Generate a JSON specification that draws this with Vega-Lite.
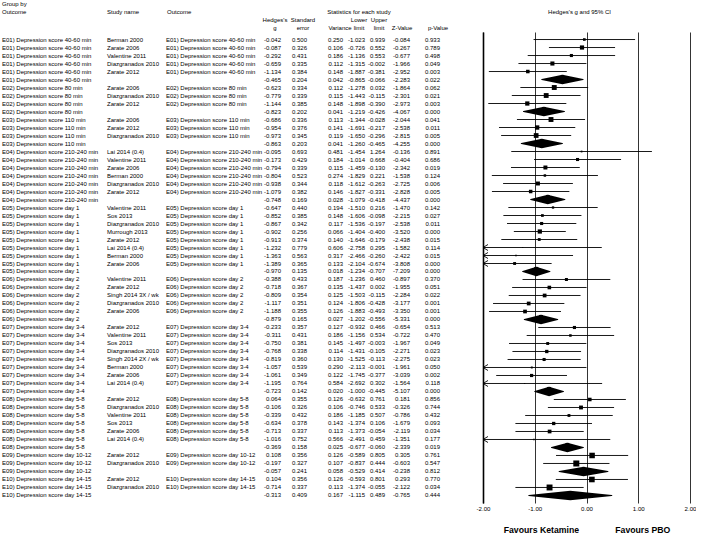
{
"$schema": "https://vega.github.io/schema/vega-lite/v6.json",
"padding": 0,
"spacing": 0,
"bounds": "full",
"datasets": {
"heads": [
{"col":"group","line":1,"text":"Group by"},{"col":"group","line":2,"text":"Outcome"},
{"col":"study","line":2,"text":"Study name"},
{"col":"outcome","line":2,"text":"Outcome"},
{"col":"g","line":3,"text":"Hedges's"},{"col":"g","line":4,"text":"g"},
{"col":"se","line":3,"text":"Standard"},{"col":"se","line":4,"text":"error"},
{"col":"var","line":4,"text":"Variance"},
{"col":"lo","line":2,"text":"Statistics for each study"},{"col":"lo","line":3,"text":"Lower"},{"col":"lo","line":4,"text":"limit"},
{"col":"hi","line":3,"text":"Upper"},{"col":"hi","line":4,"text":"limit"},
{"col":"z","line":4,"text":"Z-Value"},
{"col":"p","line":4,"text":"p-Value"},
{"col":"ci","line":2,"text":"Hedges's g and 95% CI"}
],
"rows": [
{"row":1,"group":"E01) Depression score 40-60 min","study":"Berman 2000","kind":"study","g":-0.042,"se":0.500,"var":0.250,"lo":-1.023,"hi":0.939,"z":-0.084,"p":0.933,"rw":11.6},
{"row":2,"group":"E01) Depression score 40-60 min","study":"Zarate 2006","kind":"study","g":-0.087,"se":0.326,"var":0.106,"lo":-0.726,"hi":0.552,"z":-0.267,"p":0.789,"rw":27.3},
{"row":3,"group":"E01) Depression score 40-60 min","study":"Valentine 2011","kind":"study","g":-0.292,"se":0.431,"var":0.186,"lo":-1.136,"hi":0.553,"z":-0.677,"p":0.498,"rw":15.6},
{"row":4,"group":"E01) Depression score 40-60 min","study":"Diazgranados 2010","kind":"study","g":-0.659,"se":0.335,"var":0.112,"lo":-1.315,"hi":-0.002,"z":-1.966,"p":0.049,"rw":25.9},
{"row":5,"group":"E01) Depression score 40-60 min","study":"Zarate 2012","kind":"study","g":-1.134,"se":0.384,"var":0.148,"lo":-1.887,"hi":-0.381,"z":-2.952,"p":0.003,"rw":19.6},
{"row":6,"group":"E01) Depression score 40-60 min","study":"","kind":"summary","g":-0.465,"se":0.204,"var":0.042,"lo":-0.865,"hi":-0.066,"z":-2.283,"p":0.022},
{"row":7,"group":"E02) Depression score 80 min","study":"Zarate 2006","kind":"study","g":-0.623,"se":0.334,"var":0.112,"lo":-1.278,"hi":0.032,"z":-1.864,"p":0.062,"rw":36.6},
{"row":8,"group":"E02) Depression score 80 min","study":"Diazgranados 2010","kind":"study","g":-0.779,"se":0.339,"var":0.115,"lo":-1.443,"hi":-0.115,"z":-2.301,"p":0.021,"rw":35.7},
{"row":9,"group":"E02) Depression score 80 min","study":"Zarate 2012","kind":"study","g":-1.144,"se":0.385,"var":0.148,"lo":-1.898,"hi":-0.390,"z":-2.973,"p":0.003,"rw":27.7},
{"row":10,"group":"E02) Depression score 80 min","study":"","kind":"summary","g":-0.823,"se":0.202,"var":0.041,"lo":-1.219,"hi":-0.426,"z":-4.067,"p":0.000},
{"row":11,"group":"E03) Depression score 110 min","study":"Zarate 2006","kind":"study","g":-0.686,"se":0.336,"var":0.113,"lo":-1.344,"hi":-0.028,"z":-2.044,"p":0.041,"rw":36.4},
{"row":12,"group":"E03) Depression score 110 min","study":"Zarate 2012","kind":"study","g":-0.954,"se":0.376,"var":0.141,"lo":-1.691,"hi":-0.217,"z":-2.538,"p":0.011,"rw":29.1},
{"row":13,"group":"E03) Depression score 110 min","study":"Diazgranados 2010","kind":"study","g":-0.973,"se":0.345,"var":0.119,"lo":-1.650,"hi":-0.296,"z":-2.815,"p":0.005,"rw":34.5},
{"row":14,"group":"E03) Depression score 110 min","study":"","kind":"summary","g":-0.863,"se":0.203,"var":0.041,"lo":-1.260,"hi":-0.465,"z":-4.255,"p":0.000},
{"row":15,"group":"E04) Depression score 210-240 min","study":"Lai 2014 (0.4)","kind":"study","g":-0.095,"se":0.693,"var":0.481,"lo":-1.454,"hi":1.264,"z":-0.136,"p":0.891,"rw":5.9},
{"row":16,"group":"E04) Depression score 210-240 min","study":"Valentine 2011","kind":"study","g":-0.173,"se":0.429,"var":0.184,"lo":-1.014,"hi":0.668,"z":-0.404,"p":0.686,"rw":15.4},
{"row":17,"group":"E04) Depression score 210-240 min","study":"Zarate 2006","kind":"study","g":-0.794,"se":0.339,"var":0.115,"lo":-1.459,"hi":-0.130,"z":-2.342,"p":0.019,"rw":24.7},
{"row":18,"group":"E04) Depression score 210-240 min","study":"Berman 2000","kind":"study","g":-0.804,"se":0.523,"var":0.274,"lo":-1.829,"hi":0.221,"z":-1.538,"p":0.124,"rw":10.4},
{"row":19,"group":"E04) Depression score 210-240 min","study":"Diazgranados 2010","kind":"study","g":-0.938,"se":0.344,"var":0.118,"lo":-1.612,"hi":-0.263,"z":-2.725,"p":0.006,"rw":24.1},
{"row":20,"group":"E04) Depression score 210-240 min","study":"Zarate 2012","kind":"study","g":-1.079,"se":0.382,"var":0.146,"lo":-1.827,"hi":-0.331,"z":-2.828,"p":0.005,"rw":19.5},
{"row":21,"group":"E04) Depression score 210-240 min","study":"","kind":"summary","g":-0.748,"se":0.169,"var":0.028,"lo":-1.079,"hi":-0.418,"z":-4.437,"p":0.000},
{"row":22,"group":"E05) Depression score day 1","study":"Valentine 2011","kind":"study","g":-0.647,"se":0.440,"var":0.194,"lo":-1.510,"hi":0.216,"z":-1.470,"p":0.142,"rw":9.4},
{"row":23,"group":"E05) Depression score day 1","study":"Sos 2013","kind":"study","g":-0.852,"se":0.385,"var":0.148,"lo":-1.606,"hi":-0.098,"z":-2.215,"p":0.027,"rw":12.3},
{"row":24,"group":"E05) Depression score day 1","study":"Diazgranados 2010","kind":"study","g":-0.867,"se":0.342,"var":0.117,"lo":-1.536,"hi":-0.197,"z":-2.538,"p":0.011,"rw":15.5},
{"row":25,"group":"E05) Depression score day 1","study":"Murrough 2013","kind":"study","g":-0.902,"se":0.256,"var":0.066,"lo":-1.404,"hi":-0.400,"z":-3.520,"p":0.000,"rw":27.5},
{"row":26,"group":"E05) Depression score day 1","study":"Zarate 2012","kind":"study","g":-0.913,"se":0.374,"var":0.140,"lo":-1.646,"hi":-0.179,"z":-2.438,"p":0.015,"rw":13.0},
{"row":27,"group":"E05) Depression score day 1","study":"Lai 2014 (0.4)","kind":"study","g":-1.232,"se":0.779,"var":0.606,"lo":-2.758,"hi":0.295,"z":-1.582,"p":0.114,"rw":3.0},
{"row":28,"group":"E05) Depression score day 1","study":"Berman 2000","kind":"study","g":-1.363,"se":0.563,"var":0.317,"lo":-2.466,"hi":-0.260,"z":-2.422,"p":0.015,"rw":5.7},
{"row":29,"group":"E05) Depression score day 1","study":"Zarate 2006","kind":"study","g":-1.389,"se":0.365,"var":0.133,"lo":-2.104,"hi":-0.674,"z":-3.808,"p":0.000,"rw":13.7},
{"row":30,"group":"E05) Depression score day 1","study":"","kind":"summary","g":-0.970,"se":0.135,"var":0.018,"lo":-1.234,"hi":-0.707,"z":-7.209,"p":0.000},
{"row":31,"group":"E06) Depression score day 2","study":"Valentine 2011","kind":"study","g":-0.388,"se":0.433,"var":0.187,"lo":-1.236,"hi":0.460,"z":-0.897,"p":0.370,"rw":14.6},
{"row":32,"group":"E06) Depression score day 2","study":"Zarate 2012","kind":"study","g":-0.718,"se":0.367,"var":0.135,"lo":-1.437,"hi":0.002,"z":-1.955,"p":0.051,"rw":20.2},
{"row":33,"group":"E06) Depression score day 2","study":"Singh 2014 3X / wk","kind":"study","g":-0.809,"se":0.354,"var":0.125,"lo":-1.503,"hi":-0.115,"z":-2.284,"p":0.022,"rw":21.8},
{"row":34,"group":"E06) Depression score day 2","study":"Diazgranados 2010","kind":"study","g":-1.117,"se":0.351,"var":0.124,"lo":-1.806,"hi":-0.428,"z":-3.177,"p":0.001,"rw":21.9},
{"row":35,"group":"E06) Depression score day 2","study":"Zarate 2006","kind":"study","g":-1.188,"se":0.355,"var":0.126,"lo":-1.883,"hi":-0.493,"z":-3.350,"p":0.001,"rw":21.6},
{"row":36,"group":"E06) Depression score day 2","study":"","kind":"summary","g":-0.879,"se":0.165,"var":0.027,"lo":-1.202,"hi":-0.556,"z":-5.331,"p":0.000},
{"row":37,"group":"E07) Depression score day 3-4","study":"Zarate 2012","kind":"study","g":-0.233,"se":0.357,"var":0.127,"lo":-0.932,"hi":0.466,"z":-0.654,"p":0.513,"rw":15.8},
{"row":38,"group":"E07) Depression score day 3-4","study":"Valentine 2011","kind":"study","g":-0.311,"se":0.431,"var":0.186,"lo":-1.156,"hi":0.534,"z":-0.722,"p":0.470,"rw":10.8},
{"row":39,"group":"E07) Depression score day 3-4","study":"Sos 2013","kind":"study","g":-0.750,"se":0.381,"var":0.145,"lo":-1.497,"hi":-0.003,"z":-1.967,"p":0.049,"rw":13.8},
{"row":40,"group":"E07) Depression score day 3-4","study":"Diazgranados 2010","kind":"study","g":-0.768,"se":0.338,"var":0.114,"lo":-1.431,"hi":-0.105,"z":-2.271,"p":0.023,"rw":17.6},
{"row":41,"group":"E07) Depression score day 3-4","study":"Singh 2014 2X / wk","kind":"study","g":-0.819,"se":0.360,"var":0.130,"lo":-1.525,"hi":-0.113,"z":-2.275,"p":0.023,"rw":15.4},
{"row":42,"group":"E07) Depression score day 3-4","study":"Berman 2000","kind":"study","g":-1.057,"se":0.539,"var":0.290,"lo":-2.113,"hi":-0.001,"z":-1.961,"p":0.050,"rw":6.9},
{"row":43,"group":"E07) Depression score day 3-4","study":"Zarate 2006","kind":"study","g":-1.061,"se":0.349,"var":0.122,"lo":-1.745,"hi":-0.377,"z":-3.039,"p":0.002,"rw":16.4},
{"row":44,"group":"E07) Depression score day 3-4","study":"Lai 2014 (0.4)","kind":"study","g":-1.195,"se":0.764,"var":0.584,"lo":-2.692,"hi":0.302,"z":-1.564,"p":0.118,"rw":3.4},
{"row":45,"group":"E07) Depression score day 3-4","study":"","kind":"summary","g":-0.723,"se":0.142,"var":0.020,"lo":-1.000,"hi":-0.445,"z":-5.107,"p":0.000},
{"row":46,"group":"E08) Depression score day 5-8","study":"Zarate 2012","kind":"study","g":0.064,"se":0.355,"var":0.126,"lo":-0.632,"hi":0.761,"z":0.181,"p":0.856,"rw":19.7},
{"row":47,"group":"E08) Depression score day 5-8","study":"Diazgranados 2010","kind":"study","g":-0.106,"se":0.326,"var":0.106,"lo":-0.746,"hi":0.533,"z":-0.326,"p":0.744,"rw":23.4},
{"row":48,"group":"E08) Depression score day 5-8","study":"Valentine 2011","kind":"study","g":-0.339,"se":0.432,"var":0.186,"lo":-1.185,"hi":0.507,"z":-0.786,"p":0.432,"rw":13.3},
{"row":49,"group":"E08) Depression score day 5-8","study":"Sos 2013","kind":"study","g":-0.634,"se":0.378,"var":0.143,"lo":-1.374,"hi":0.106,"z":-1.679,"p":0.093,"rw":17.3},
{"row":50,"group":"E08) Depression score day 5-8","study":"Zarate 2006","kind":"study","g":-0.713,"se":0.337,"var":0.113,"lo":-1.373,"hi":-0.054,"z":-2.119,"p":0.034,"rw":21.9},
{"row":51,"group":"E08) Depression score day 5-8","study":"Lai 2014 (0.4)","kind":"study","g":-1.016,"se":0.752,"var":0.566,"lo":-2.491,"hi":0.459,"z":-1.351,"p":0.177,"rw":4.4},
{"row":52,"group":"E08) Depression score day 5-8","study":"","kind":"summary","g":-0.369,"se":0.158,"var":0.025,"lo":-0.677,"hi":-0.060,"z":-2.339,"p":0.019},
{"row":53,"group":"E09) Depression score day 10-12","study":"Zarate 2012","kind":"study","g":0.108,"se":0.356,"var":0.126,"lo":-0.589,"hi":0.805,"z":0.305,"p":0.761,"rw":45.9},
{"row":54,"group":"E09) Depression score day 10-12","study":"Diazgranados 2010","kind":"study","g":-0.197,"se":0.327,"var":0.107,"lo":-0.837,"hi":0.444,"z":-0.603,"p":0.547,"rw":54.1},
{"row":55,"group":"E09) Depression score day 10-12","study":"","kind":"summary","g":-0.057,"se":0.241,"var":0.058,"lo":-0.529,"hi":0.414,"z":-0.238,"p":0.812},
{"row":56,"group":"E10) Depression score day 14-15","study":"Zarate 2012","kind":"study","g":0.104,"se":0.356,"var":0.126,"lo":-0.593,"hi":0.801,"z":0.293,"p":0.770,"rw":47.3},
{"row":57,"group":"E10) Depression score day 14-15","study":"Diazgranados 2010","kind":"study","g":-0.714,"se":0.337,"var":0.113,"lo":-1.374,"hi":-0.055,"z":-2.122,"p":0.034,"rw":52.7},
{"row":58,"group":"E10) Depression score day 14-15","study":"","kind":"summary","g":-0.313,"se":0.409,"var":0.167,"lo":-1.115,"hi":0.489,"z":-0.765,"p":0.444}
]},
"vconcat": [
{"data":{"name":"heads"},"spacing":0,"bounds":"flush",
 "hconcat":[
 {"width":106,"height":32,"transform":[{"filter":"datum.col === 'group'"}],
  "mark":{"type":"text","align":"left","baseline":"middle","dx":2},
  "encoding":{"y":{"field":"line","type":"ordinal","scale":{"type":"point","domain":[1,2,3,4],"padding":0.55},"axis":null},
   "x":{"datum":"c","type":"nominal","scale":{"type":"point","align":0},"axis":null},"text":{"field":"text"}}},
 {"width":60,"height":32,"transform":[{"filter":"datum.col === 'study'"}],
  "mark":{"type":"text","align":"left","baseline":"middle","dx":1},
  "encoding":{"y":{"field":"line","type":"ordinal","scale":{"type":"point","domain":[1,2,3,4],"padding":0.55},"axis":null},
   "x":{"datum":"c","type":"nominal","scale":{"type":"point","align":0},"axis":null},"text":{"field":"text"}}},
 {"width":84,"height":32,"transform":[{"filter":"datum.col === 'outcome'"}],
  "mark":{"type":"text","align":"left","baseline":"middle","dx":1},
  "encoding":{"y":{"field":"line","type":"ordinal","scale":{"type":"point","domain":[1,2,3,4],"padding":0.55},"axis":null},
   "x":{"datum":"c","type":"nominal","scale":{"type":"point","align":0},"axis":null},"text":{"field":"text"}}},
 {"width":31,"height":32,"transform":[{"filter":"datum.col === 'g'"}],
  "mark":{"type":"text","align":"center","baseline":"middle","dx":-6},
  "encoding":{"y":{"field":"line","type":"ordinal","scale":{"type":"point","domain":[1,2,3,4],"padding":0.55},"axis":null},
   "x":{"datum":"c","type":"nominal","scale":{"type":"point","align":1},"axis":null},"text":{"field":"text"}}},
 {"width":26,"height":32,"transform":[{"filter":"datum.col === 'se'"}],
  "mark":{"type":"text","align":"center","baseline":"middle","dx":-4},
  "encoding":{"y":{"field":"line","type":"ordinal","scale":{"type":"point","domain":[1,2,3,4],"padding":0.55},"axis":null},
   "x":{"datum":"c","type":"nominal","scale":{"type":"point","align":1},"axis":null},"text":{"field":"text"}}},
 {"width":36,"height":32,"transform":[{"filter":"datum.col === 'var'"}],
  "mark":{"type":"text","align":"center","baseline":"middle","dx":-3},
  "encoding":{"y":{"field":"line","type":"ordinal","scale":{"type":"point","domain":[1,2,3,4],"padding":0.55},"axis":null},
   "x":{"datum":"c","type":"nominal","scale":{"type":"point","align":1},"axis":null},"text":{"field":"text"}}},
 {"width":22,"height":32,"transform":[{"filter":"datum.col === 'lo'"}],
  "mark":{"type":"text","align":"center","baseline":"middle","dx":-6},
  "encoding":{"y":{"field":"line","type":"ordinal","scale":{"type":"point","domain":[1,2,3,4],"padding":0.55},"axis":null},
   "x":{"datum":"c","type":"nominal","scale":{"type":"point","align":1},"axis":null},"text":{"field":"text"}}},
 {"width":20,"height":32,"transform":[{"filter":"datum.col === 'hi'"}],
  "mark":{"type":"text","align":"center","baseline":"middle","dx":-6},
  "encoding":{"y":{"field":"line","type":"ordinal","scale":{"type":"point","domain":[1,2,3,4],"padding":0.55},"axis":null},
   "x":{"datum":"c","type":"nominal","scale":{"type":"point","align":1},"axis":null},"text":{"field":"text"}}},
 {"width":25,"height":32,"transform":[{"filter":"datum.col === 'z'"}],
  "mark":{"type":"text","align":"center","baseline":"middle","dx":-8},
  "encoding":{"y":{"field":"line","type":"ordinal","scale":{"type":"point","domain":[1,2,3,4],"padding":0.55},"axis":null},
   "x":{"datum":"c","type":"nominal","scale":{"type":"point","align":1},"axis":null},"text":{"field":"text"}}},
 {"width":30,"height":32,"transform":[{"filter":"datum.col === 'p'"}],
  "mark":{"type":"text","align":"center","baseline":"middle","dx":-2},
  "encoding":{"y":{"field":"line","type":"ordinal","scale":{"type":"point","domain":[1,2,3,4],"padding":0.55},"axis":null},
   "x":{"datum":"c","type":"nominal","scale":{"type":"point","align":1},"axis":null},"text":{"field":"text"}}},
 {"width":43,"height":32,"data":{"values":[]},"mark":{"type":"point","opacity":0}},
 {"width":207,"height":32,"transform":[{"filter":"datum.col === 'ci'"}],
  "mark":{"type":"text","align":"center","baseline":"middle","dx":-7},
  "encoding":{"y":{"field":"line","type":"ordinal","scale":{"type":"point","domain":[1,2,3,4],"padding":0.55},"axis":null},
   "x":{"datum":"c","type":"nominal","scale":{"type":"point","align":0.5},"axis":null},"text":{"field":"text"}}}
 ]},
{"data":{"name":"rows"},"spacing":0,"bounds":"flush",
 "hconcat":[
 {"width":106,"height":471,
  "mark":{"type":"text","align":"left","baseline":"middle","dx":2},
  "encoding":{"y":{"field":"row","type":"ordinal","scale":{"type":"point","padding":0.94},"axis":null},
   "x":{"datum":"c","type":"nominal","scale":{"type":"point","align":0},"axis":null},
   "text":{"field":"group"}}},
 {"width":60,"height":471,
  "mark":{"type":"text","align":"left","baseline":"middle","dx":1},
  "encoding":{"y":{"field":"row","type":"ordinal","scale":{"type":"point","padding":0.94},"axis":null},
   "x":{"datum":"c","type":"nominal","scale":{"type":"point","align":0},"axis":null},
   "text":{"field":"study"}}},
 {"width":84,"height":471,
  "mark":{"type":"text","align":"left","baseline":"middle"},
  "encoding":{"y":{"field":"row","type":"ordinal","scale":{"type":"point","padding":0.94},"axis":null},
   "x":{"datum":"c","type":"nominal","scale":{"type":"point","align":0},"axis":null},
   "text":{"condition":{"test":"datum.kind === 'study'","field":"group"},"value":""}}},
 {"width":31,"height":471,
  "mark":{"type":"text","align":"right","baseline":"middle"},
  "encoding":{"y":{"field":"row","type":"ordinal","scale":{"type":"point","padding":0.94},"axis":null},
   "x":{"datum":"c","type":"nominal","scale":{"type":"point","align":1},"axis":null},
   "text":{"field":"g","type":"quantitative","format":".3f"}}},
 {"width":26,"height":471,
  "mark":{"type":"text","align":"right","baseline":"middle"},
  "encoding":{"y":{"field":"row","type":"ordinal","scale":{"type":"point","padding":0.94},"axis":null},
   "x":{"datum":"c","type":"nominal","scale":{"type":"point","align":1},"axis":null},
   "text":{"field":"se","type":"quantitative","format":".3f"}}},
 {"width":36,"height":471,
  "mark":{"type":"text","align":"right","baseline":"middle"},
  "encoding":{"y":{"field":"row","type":"ordinal","scale":{"type":"point","padding":0.94},"axis":null},
   "x":{"datum":"c","type":"nominal","scale":{"type":"point","align":1},"axis":null},
   "text":{"field":"var","type":"quantitative","format":".3f"}}},
 {"width":22,"height":471,
  "mark":{"type":"text","align":"right","baseline":"middle"},
  "encoding":{"y":{"field":"row","type":"ordinal","scale":{"type":"point","padding":0.94},"axis":null},
   "x":{"datum":"c","type":"nominal","scale":{"type":"point","align":1},"axis":null},
   "text":{"field":"lo","type":"quantitative","format":".3f"}}},
 {"width":20,"height":471,
  "mark":{"type":"text","align":"right","baseline":"middle"},
  "encoding":{"y":{"field":"row","type":"ordinal","scale":{"type":"point","padding":0.94},"axis":null},
   "x":{"datum":"c","type":"nominal","scale":{"type":"point","align":1},"axis":null},
   "text":{"field":"hi","type":"quantitative","format":".3f"}}},
 {"width":25,"height":471,
  "mark":{"type":"text","align":"right","baseline":"middle"},
  "encoding":{"y":{"field":"row","type":"ordinal","scale":{"type":"point","padding":0.94},"axis":null},
   "x":{"datum":"c","type":"nominal","scale":{"type":"point","align":1},"axis":null},
   "text":{"field":"z","type":"quantitative","format":".3f"}}},
 {"width":30,"height":471,
  "mark":{"type":"text","align":"right","baseline":"middle"},
  "encoding":{"y":{"field":"row","type":"ordinal","scale":{"type":"point","padding":0.94},"axis":null},
   "x":{"datum":"c","type":"nominal","scale":{"type":"point","align":1},"axis":null},
   "text":{"field":"p","type":"quantitative","format":".3f"}}},
 {"width":43,"height":471,"data":{"values":[]},"mark":{"type":"point","opacity":0}},
 {"width":207,"height":471,
  "encoding":{"y":{"field":"row","type":"ordinal","scale":{"type":"point","padding":0.94},
    "axis":{"orient":"left","domain":true,"domainColor":"black","domainWidth":1.6,"labels":false,"ticks":false,"grid":false,"title":null}}},
  "layer":[
   {"transform":[{"filter":"datum.kind === 'study'"}],
    "mark":{"type":"rule","clip":true,"color":"black","strokeWidth":0.9},
    "encoding":{"x":{"field":"lo","type":"quantitative","scale":{"domain":[-2,2],"nice":false,"zero":false},
      "axis":{"values":[-2,-1,0,1,2],"format":".2f","grid":true,"gridColor":"black","gridOpacity":1,"gridWidth":0.8,"domain":false,"ticks":false,"labelFlush":false,"labelFontSize":6.1,"labelFont":"Liberation Sans","labelColor":"black","labelPadding":2,
       "title":"Favours Ketamine\u00a0\u00a0\u00a0\u00a0\u00a0\u00a0\u00a0\u00a0\u00a0\u00a0\u00a0\u00a0\u00a0\u00a0\u00a0Favours PBO","titleFont":"Liberation Sans","titleFontSize":8.7,"titleFontWeight":"bold","titleColor":"black","titlePadding":14}},
     "x2":{"field":"hi"}}},
   {"transform":[{"filter":"datum.kind === 'study'"}],
    "mark":{"type":"point","shape":"square","filled":true,"color":"black","opacity":1},
    "encoding":{"x":{"field":"g","type":"quantitative"},
     "size":{"field":"rw","type":"quantitative","scale":{"domain":[3,54],"range":[1,36],"zero":false},"legend":null}}},
   {"transform":[{"filter":"datum.kind === 'summary'"},{"fold":["lo","g","hi"]}],
    "mark":{"type":"trail","color":"black"},
    "encoding":{"x":{"field":"value","type":"quantitative"},
     "detail":{"field":"row"},
     "order":{"field":"value","type":"quantitative"},
     "size":{"field":"key","type":"nominal","scale":{"type":"ordinal","domain":["lo","g","hi"],"range":[0,9.5,0]},"legend":null}}},
   {"transform":[{"filter":"datum.kind === 'study' && datum.lo < -2"}],
    "mark":{"type":"point","shape":"M2,-1.2L0,0L2,1.2","filled":false,"color":"black","strokeWidth":0.9,"size":25,"opacity":1},
    "encoding":{"x":{"datum":-2,"type":"quantitative"}}}
  ],
  "resolve":{"scale":{"size":"independent"}}}
 ]}
],
"config":{
 "view":{"stroke":null},
 "locale":{"number":{"decimal":".","thousands":",","grouping":[3],"currency":["$",""],"minus":"-"}},
 "text":{"font":"Liberation Sans","fontSize":6.0,"color":"black"}
}
}
